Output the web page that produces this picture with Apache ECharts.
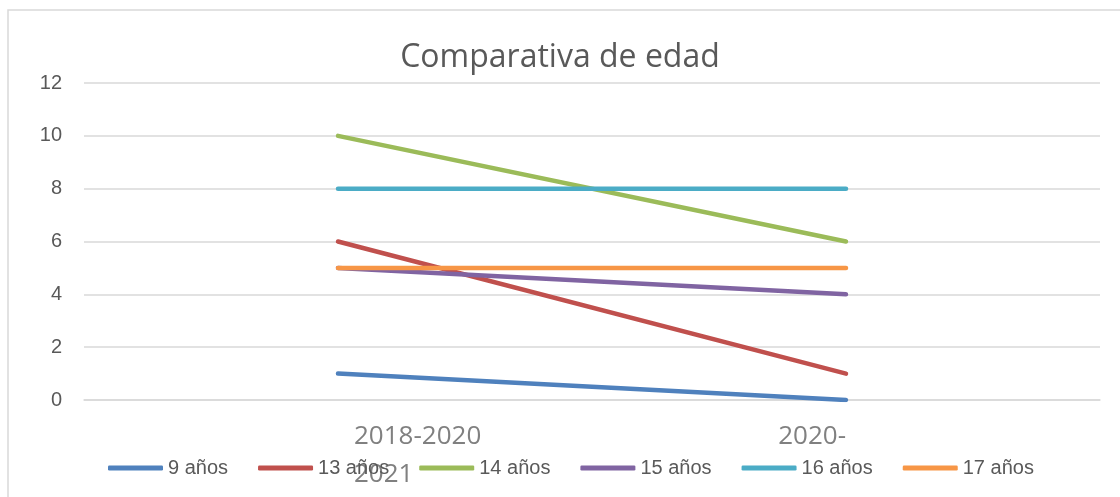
<!DOCTYPE html>
<html>
<head>
<meta charset="utf-8">
<script src="https://cdn.jsdelivr.net/npm/echarts@6/dist/echarts.min.js"></script>
<style>
html,body{margin:0;padding:0;background:#fff;}
#myChart{width:1120px;height:497px;}
</style>
</head>
<body>
<div id="myChart"></div>
<script>
/*datos*/
var categorias = ['2018-2020', '2020-2021'];
var nombres = ['9 años', '13 años', '14 años', '15 años', '16 años', '17 años'];
var v9  = [1, 0];
var v13 = [6, 1];
var v14 = [10, 6];
var v15 = [5, 4];
var v16 = [8, 8];
var v17 = [5, 5];
var ticksY = [0, 2, 4, 6, 8, 10, 12];

var colores = ['#4F81BD', '#C0504D', '#9BBB59', '#8064A2', '#4BACC6', '#F79646'];
var valores = [v9, v13, v14, v15, v16, v17];

var myChart = echarts.init(document.getElementById('myChart'));

var series = [];
for (var i = 0; i < nombres.length; ++i) {
    series.push({
        type: 'line',
        name: nombres[i],
        data: valores[i],
        symbol: 'none',
        color: colores[i],
        lineStyle: {width: 4.5, color: colores[i], cap: 'round'},
        animation: false
    });
}

// en el original el "2021" de la segunda etiqueta sale debajo de la primera
var partes = categorias[1].split('-');

myChart.setOption({
    title: {
        text: 'Comparativa de edad',
        left: 'center',
        top: 37,
        textStyle: {fontFamily: 'Open Sans', fontSize: 32, fontWeight: 'normal', color: '#595959'}
    },
    graphic: [{
        type: 'rect',
        shape: {x: 8, y: 10, width: 1300, height: 700},
        style: {fill: 'none', stroke: '#d9d9d9', lineWidth: 1.5},
        silent: true
    }],
    legend: {
        data: nombres,
        left: 103,
        top: 453,
        icon: 'roundRect',
        itemWidth: 55,
        itemHeight: 5,
        itemGap: 30,
        textStyle: {fontFamily: 'Liberation Sans', fontSize: 20, color: '#595959'}
    },
    grid: {left: 84, right: 20, top: 83, bottom: 97},
    xAxis: {
        type: 'category',
        data: [
            {value: categorias[0], textStyle: {align: 'left', padding: [0, 0, 0, 16]}},
            {value: categorias[1], textStyle: {align: 'right', padding: [0, 0, 0, 0]}}
        ],
        boundaryGap: true,
        axisLine: {show: true, lineStyle: {color: '#d9d9d9', width: 1.5}},
        axisTick: {show: false},
        axisLabel: {
            fontFamily: 'Open Sans',
            fontSize: 26,
            lineHeight: 38,
            color: '#808080',
            margin: 18,
            interval: 0,
            formatter: function (value, index) {
                if (index == 0) return value + '\n' + partes[1];
                return partes[0] + '-';
            }
        }
    },
    yAxis: {
        type: 'value',
        min: ticksY[0],
        max: ticksY[ticksY.length - 1],
        interval: 2,
        axisLine: {show: false},
        axisTick: {show: false},
        splitLine: {lineStyle: {color: '#d9d9d9', width: 1.5}},
        axisLabel: {fontFamily: 'Liberation Sans', fontSize: 20, color: '#595959', margin: 22}
    },
    series: series
});
</script>
</body>
</html>
